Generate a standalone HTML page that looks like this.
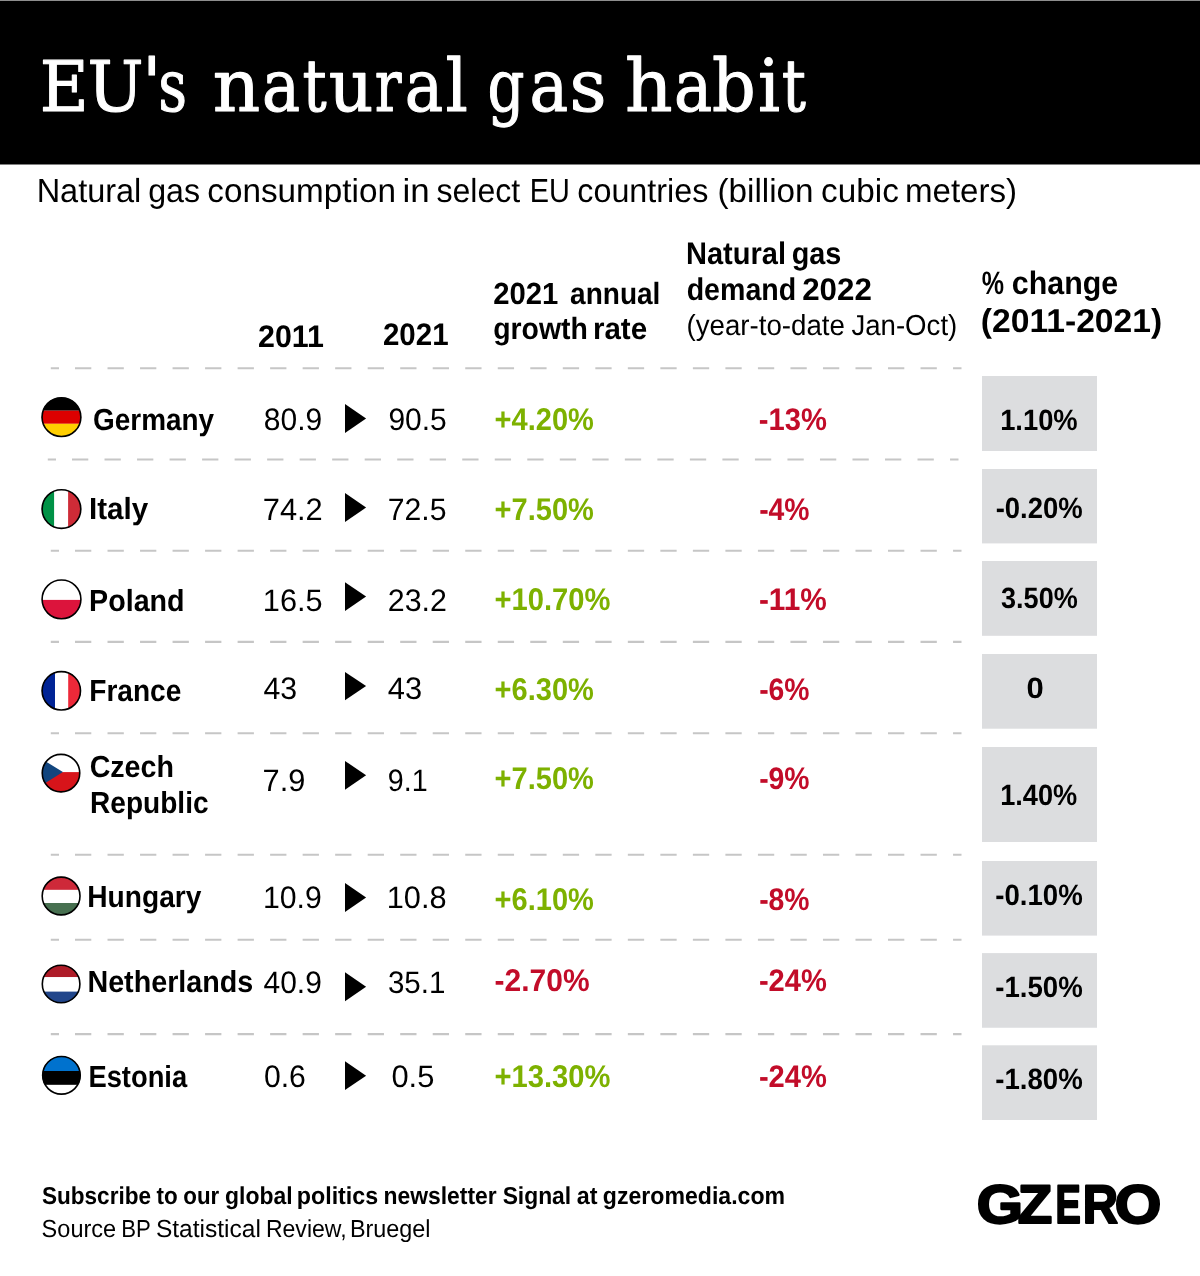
<!DOCTYPE html><html><head><meta charset="utf-8"><title>EU's natural gas habit</title><style>
html,body{margin:0;padding:0;background:#fff;width:1200px;height:1276px;overflow:hidden}
svg{display:block;will-change:transform}
.s{font-family:'Liberation Sans', Arial, sans-serif}
.r{font-family:'DejaVu Serif', 'Liberation Serif', serif}
.b{font-weight:700}
text{text-rendering:geometricPrecision}
</style></head><body>
<svg width="1200" height="1276" viewBox="0 0 1200 1276">
<rect x="0" y="0" width="1200" height="1276" fill="#fff"/>
<rect x="0" y="0.56" width="1200" height="163.94" fill="#000"/>
<path d="M50.80 368.20H59.00M75.00 368.20H91.30M107.52 368.20H123.82M140.04 368.20H156.34M172.56 368.20H188.86M205.08 368.20H221.38M237.60 368.20H253.90M270.12 368.20H286.42M302.64 368.20H318.94M335.16 368.20H351.46M367.68 368.20H383.98M400.20 368.20H416.50M432.72 368.20H449.02M465.24 368.20H481.54M497.76 368.20H514.06M530.28 368.20H546.58M562.80 368.20H579.10M595.32 368.20H611.62M627.84 368.20H644.14M660.36 368.20H676.66M692.88 368.20H709.18M725.40 368.20H741.70M757.92 368.20H774.22M790.44 368.20H806.74M822.96 368.20H839.26M855.48 368.20H871.78M888.00 368.20H904.30M920.52 368.20H936.82M953.04 368.20H961.50" stroke="#c6c6c6" stroke-width="2.1" fill="none"/>
<path d="M47.80 459.50H56.00M72.00 459.50H88.30M104.52 459.50H120.82M137.04 459.50H153.34M169.56 459.50H185.86M202.08 459.50H218.38M234.60 459.50H250.90M267.12 459.50H283.42M299.64 459.50H315.94M332.16 459.50H348.46M364.68 459.50H380.98M397.20 459.50H413.50M429.72 459.50H446.02M462.24 459.50H478.54M494.76 459.50H511.06M527.28 459.50H543.58M559.80 459.50H576.10M592.32 459.50H608.62M624.84 459.50H641.14M657.36 459.50H673.66M689.88 459.50H706.18M722.40 459.50H738.70M754.92 459.50H771.22M787.44 459.50H803.74M819.96 459.50H836.26M852.48 459.50H868.78M885.00 459.50H901.30M917.52 459.50H933.82M950.04 459.50H958.50" stroke="#c6c6c6" stroke-width="2.1" fill="none"/>
<path d="M50.80 550.75H59.00M75.00 550.75H91.30M107.52 550.75H123.82M140.04 550.75H156.34M172.56 550.75H188.86M205.08 550.75H221.38M237.60 550.75H253.90M270.12 550.75H286.42M302.64 550.75H318.94M335.16 550.75H351.46M367.68 550.75H383.98M400.20 550.75H416.50M432.72 550.75H449.02M465.24 550.75H481.54M497.76 550.75H514.06M530.28 550.75H546.58M562.80 550.75H579.10M595.32 550.75H611.62M627.84 550.75H644.14M660.36 550.75H676.66M692.88 550.75H709.18M725.40 550.75H741.70M757.92 550.75H774.22M790.44 550.75H806.74M822.96 550.75H839.26M855.48 550.75H871.78M888.00 550.75H904.30M920.52 550.75H936.82M953.04 550.75H961.50" stroke="#c6c6c6" stroke-width="2.1" fill="none"/>
<path d="M50.80 641.90H59.00M75.00 641.90H91.30M107.52 641.90H123.82M140.04 641.90H156.34M172.56 641.90H188.86M205.08 641.90H221.38M237.60 641.90H253.90M270.12 641.90H286.42M302.64 641.90H318.94M335.16 641.90H351.46M367.68 641.90H383.98M400.20 641.90H416.50M432.72 641.90H449.02M465.24 641.90H481.54M497.76 641.90H514.06M530.28 641.90H546.58M562.80 641.90H579.10M595.32 641.90H611.62M627.84 641.90H644.14M660.36 641.90H676.66M692.88 641.90H709.18M725.40 641.90H741.70M757.92 641.90H774.22M790.44 641.90H806.74M822.96 641.90H839.26M855.48 641.90H871.78M888.00 641.90H904.30M920.52 641.90H936.82M953.04 641.90H961.50" stroke="#c6c6c6" stroke-width="2.1" fill="none"/>
<path d="M50.80 733.30H59.00M75.00 733.30H91.30M107.52 733.30H123.82M140.04 733.30H156.34M172.56 733.30H188.86M205.08 733.30H221.38M237.60 733.30H253.90M270.12 733.30H286.42M302.64 733.30H318.94M335.16 733.30H351.46M367.68 733.30H383.98M400.20 733.30H416.50M432.72 733.30H449.02M465.24 733.30H481.54M497.76 733.30H514.06M530.28 733.30H546.58M562.80 733.30H579.10M595.32 733.30H611.62M627.84 733.30H644.14M660.36 733.30H676.66M692.88 733.30H709.18M725.40 733.30H741.70M757.92 733.30H774.22M790.44 733.30H806.74M822.96 733.30H839.26M855.48 733.30H871.78M888.00 733.30H904.30M920.52 733.30H936.82M953.04 733.30H961.50" stroke="#c6c6c6" stroke-width="2.1" fill="none"/>
<path d="M50.80 854.80H59.00M75.00 854.80H91.30M107.52 854.80H123.82M140.04 854.80H156.34M172.56 854.80H188.86M205.08 854.80H221.38M237.60 854.80H253.90M270.12 854.80H286.42M302.64 854.80H318.94M335.16 854.80H351.46M367.68 854.80H383.98M400.20 854.80H416.50M432.72 854.80H449.02M465.24 854.80H481.54M497.76 854.80H514.06M530.28 854.80H546.58M562.80 854.80H579.10M595.32 854.80H611.62M627.84 854.80H644.14M660.36 854.80H676.66M692.88 854.80H709.18M725.40 854.80H741.70M757.92 854.80H774.22M790.44 854.80H806.74M822.96 854.80H839.26M855.48 854.80H871.78M888.00 854.80H904.30M920.52 854.80H936.82M953.04 854.80H961.50" stroke="#c6c6c6" stroke-width="2.1" fill="none"/>
<path d="M50.80 939.70H59.00M75.00 939.70H91.30M107.52 939.70H123.82M140.04 939.70H156.34M172.56 939.70H188.86M205.08 939.70H221.38M237.60 939.70H253.90M270.12 939.70H286.42M302.64 939.70H318.94M335.16 939.70H351.46M367.68 939.70H383.98M400.20 939.70H416.50M432.72 939.70H449.02M465.24 939.70H481.54M497.76 939.70H514.06M530.28 939.70H546.58M562.80 939.70H579.10M595.32 939.70H611.62M627.84 939.70H644.14M660.36 939.70H676.66M692.88 939.70H709.18M725.40 939.70H741.70M757.92 939.70H774.22M790.44 939.70H806.74M822.96 939.70H839.26M855.48 939.70H871.78M888.00 939.70H904.30M920.52 939.70H936.82M953.04 939.70H961.50" stroke="#c6c6c6" stroke-width="2.1" fill="none"/>
<path d="M50.80 1034.10H59.00M75.00 1034.10H91.30M107.52 1034.10H123.82M140.04 1034.10H156.34M172.56 1034.10H188.86M205.08 1034.10H221.38M237.60 1034.10H253.90M270.12 1034.10H286.42M302.64 1034.10H318.94M335.16 1034.10H351.46M367.68 1034.10H383.98M400.20 1034.10H416.50M432.72 1034.10H449.02M465.24 1034.10H481.54M497.76 1034.10H514.06M530.28 1034.10H546.58M562.80 1034.10H579.10M595.32 1034.10H611.62M627.84 1034.10H644.14M660.36 1034.10H676.66M692.88 1034.10H709.18M725.40 1034.10H741.70M757.92 1034.10H774.22M790.44 1034.10H806.74M822.96 1034.10H839.26M855.48 1034.10H871.78M888.00 1034.10H904.30M920.52 1034.10H936.82M953.04 1034.10H961.50" stroke="#c6c6c6" stroke-width="2.1" fill="none"/>
<rect x="982" y="376.00" width="115" height="75.00" fill="#dcdddf"/>
<rect x="982" y="469.00" width="115" height="74.40" fill="#dcdddf"/>
<rect x="982" y="561.00" width="115" height="74.80" fill="#dcdddf"/>
<rect x="982" y="654.00" width="115" height="74.70" fill="#dcdddf"/>
<rect x="982" y="747.00" width="115" height="95.00" fill="#dcdddf"/>
<rect x="982" y="861.00" width="115" height="74.60" fill="#dcdddf"/>
<rect x="982" y="953.10" width="115" height="74.65" fill="#dcdddf"/>
<rect x="982" y="1045.30" width="115" height="74.70" fill="#dcdddf"/>
<path d="M345 403.90L366.1 418.40L345 432.90Z" fill="#000"/>
<path d="M345 493.00L366.1 507.55L345 522.10Z" fill="#000"/>
<path d="M345 582.30L366.1 596.60L345 610.90Z" fill="#000"/>
<path d="M345 671.90L366.1 686.05L345 700.20Z" fill="#000"/>
<path d="M345 760.90L366.1 775.30L345 789.70Z" fill="#000"/>
<path d="M345 883.00L366.1 897.45L345 911.90Z" fill="#000"/>
<path d="M345 972.20L366.1 986.70L345 1001.20Z" fill="#000"/>
<path d="M345 1061.30L366.1 1075.70L345 1090.10Z" fill="#000"/>
<defs>
<clipPath id="c_de"><circle cx="61.45" cy="417.15" r="19.70"/></clipPath>
<clipPath id="c_it"><circle cx="61.45" cy="509.05" r="19.65"/></clipPath>
<clipPath id="c_pl"><circle cx="61.50" cy="599.35" r="19.70"/></clipPath>
<clipPath id="c_fr"><circle cx="61.30" cy="690.80" r="19.50"/></clipPath>
<clipPath id="c_cz"><circle cx="61.00" cy="773.10" r="19.05"/></clipPath>
<clipPath id="c_hu"><circle cx="61.10" cy="896.00" r="19.20"/></clipPath>
<clipPath id="c_nl"><circle cx="61.10" cy="984.00" r="19.10"/></clipPath>
<clipPath id="c_ee"><circle cx="61.45" cy="1075.35" r="19.10"/></clipPath>
</defs>
<g clip-path="url(#c_de)"><rect x="40.05" y="395.75" width="42.80" height="14.95" fill="#000000"/><rect x="40.05" y="410.70" width="42.80" height="13.10" fill="#dd0000"/><rect x="40.05" y="423.80" width="42.80" height="14.75" fill="#ffce00"/></g>
<circle cx="61.45" cy="417.15" r="19.40" fill="none" stroke="#000" stroke-width="1.6"/>
<g clip-path="url(#c_it)"><rect x="40.10" y="487.70" width="14.20" height="42.70" fill="#009246"/><rect x="54.30" y="487.70" width="13.80" height="42.70" fill="#ffffff"/><rect x="68.10" y="487.70" width="14.70" height="42.70" fill="#ce2b37"/></g>
<circle cx="61.45" cy="509.05" r="19.35" fill="none" stroke="#000" stroke-width="1.6"/>
<g clip-path="url(#c_pl)"><rect x="40.10" y="577.95" width="42.80" height="21.95" fill="#ffffff"/><rect x="40.10" y="599.90" width="42.80" height="20.85" fill="#dc143c"/></g>
<circle cx="61.50" cy="599.35" r="19.40" fill="none" stroke="#000" stroke-width="1.6"/>
<g clip-path="url(#c_fr)"><rect x="40.10" y="669.60" width="14.90" height="42.40" fill="#002395"/><rect x="55.00" y="669.60" width="13.20" height="42.40" fill="#ffffff"/><rect x="68.20" y="669.60" width="14.30" height="42.40" fill="#ed2939"/></g>
<circle cx="61.30" cy="690.80" r="19.20" fill="none" stroke="#000" stroke-width="1.6"/>
<g clip-path="url(#c_cz)"><rect x="40.25" y="752.35" width="41.50" height="19.75" fill="#ffffff"/><rect x="40.25" y="772.10" width="41.50" height="21.75" fill="#d7141a"/><path d="M40.25 758.06L62.90 772.10L40.25 786.14Z" fill="#11457e"/></g>
<circle cx="61.00" cy="773.10" r="18.75" fill="none" stroke="#000" stroke-width="1.6"/>
<g clip-path="url(#c_hu)"><rect x="40.20" y="875.10" width="41.80" height="14.80" fill="#ce2939"/><rect x="40.20" y="889.90" width="41.80" height="13.10" fill="#ffffff"/><rect x="40.20" y="903.00" width="41.80" height="13.90" fill="#477050"/></g>
<circle cx="61.10" cy="896.00" r="18.90" fill="none" stroke="#000" stroke-width="1.6"/>
<g clip-path="url(#c_nl)"><rect x="40.30" y="963.20" width="41.60" height="14.00" fill="#ae1c28"/><rect x="40.30" y="977.20" width="41.60" height="14.40" fill="#ffffff"/><rect x="40.30" y="991.60" width="41.60" height="13.20" fill="#21468b"/></g>
<circle cx="61.10" cy="984.00" r="18.80" fill="none" stroke="#000" stroke-width="1.6"/>
<g clip-path="url(#c_ee)"><rect x="40.65" y="1054.55" width="41.60" height="16.45" fill="#0072ce"/><rect x="40.65" y="1071.00" width="41.60" height="13.90" fill="#000000"/><rect x="40.65" y="1084.90" width="41.60" height="11.25" fill="#ffffff"/></g>
<circle cx="61.45" cy="1075.35" r="18.80" fill="none" stroke="#000" stroke-width="1.6"/>
<text id="L_title" class="r" y="111.10" font-size="72.50" fill="#fff" stroke="#fff" stroke-width="1.10" stroke-linejoin="round"><tspan id="title_0" x="39.63" y="111.10" font-size="69.80" textLength="48.98" lengthAdjust="spacingAndGlyphs">E</tspan><tspan id="title_1" x="87.45" y="111.10" font-size="69.80" textLength="56.09" lengthAdjust="spacingAndGlyphs">U</tspan><tspan id="title_2" x="142.23" y="106.60" font-size="69.80" textLength="19.14" lengthAdjust="spacingAndGlyphs">'</tspan><tspan id="title_3" x="158.27" y="111.10" textLength="28.78" lengthAdjust="spacingAndGlyphs">s</tspan> <tspan id="title_4" x="212.85" y="111.10" textLength="47.46" lengthAdjust="spacingAndGlyphs">n</tspan><tspan id="title_5" x="262.04" y="111.10" textLength="38.11" lengthAdjust="spacingAndGlyphs">a</tspan><tspan id="title_6" x="302.46" y="111.10" textLength="24.12" lengthAdjust="spacingAndGlyphs">t</tspan><tspan id="title_7" x="328.70" y="111.10" textLength="44.63" lengthAdjust="spacingAndGlyphs">u</tspan><tspan id="title_8" x="374.70" y="111.10" textLength="26.77" lengthAdjust="spacingAndGlyphs">r</tspan><tspan id="title_9" x="404.75" y="111.10" textLength="38.47" lengthAdjust="spacingAndGlyphs">a</tspan><tspan id="title_10" x="445.41" y="111.10" textLength="22.40" lengthAdjust="spacingAndGlyphs">l</tspan> <tspan id="title_11" x="487.39" y="111.10" textLength="37.04" lengthAdjust="spacingAndGlyphs">g</tspan><tspan id="title_12" x="529.62" y="111.10" textLength="38.70" lengthAdjust="spacingAndGlyphs">a</tspan><tspan id="title_13" x="569.50" y="111.10" textLength="37.09" lengthAdjust="spacingAndGlyphs">s</tspan> <tspan id="title_14" x="625.02" y="111.10" textLength="47.63" lengthAdjust="spacingAndGlyphs">h</tspan><tspan id="title_15" x="674.04" y="111.10" textLength="38.25" lengthAdjust="spacingAndGlyphs">a</tspan><tspan id="title_16" x="712.07" y="111.10" textLength="43.64" lengthAdjust="spacingAndGlyphs">b</tspan><tspan id="title_17" x="757.99" y="111.10" textLength="22.05" lengthAdjust="spacingAndGlyphs">i</tspan><tspan id="title_18" x="781.66" y="111.10" textLength="24.13" lengthAdjust="spacingAndGlyphs">t</tspan></text>
<text id="L_sub" class="s" y="202.00" font-size="33.30" fill="#000"><tspan id="sub_0" x="36.63" textLength="104.69" lengthAdjust="spacingAndGlyphs">Natural</tspan> <tspan id="sub_1" x="148.22" textLength="51.84" lengthAdjust="spacingAndGlyphs">gas</tspan> <tspan id="sub_2" x="207.26" textLength="188.67" lengthAdjust="spacingAndGlyphs">consumption</tspan> <tspan id="sub_3" x="402.58" textLength="27.16" lengthAdjust="spacingAndGlyphs">in</tspan> <tspan id="sub_4" x="436.38" textLength="83.88" lengthAdjust="spacingAndGlyphs">select</tspan> <tspan id="sub_5" x="529.73" textLength="40.07" lengthAdjust="spacingAndGlyphs">EU</tspan> <tspan id="sub_6" x="577.30" textLength="130.97" lengthAdjust="spacingAndGlyphs">countries</tspan> <tspan id="sub_7" x="717.50" textLength="96.00" lengthAdjust="spacingAndGlyphs">(billion</tspan> <tspan id="sub_8" x="821.06" textLength="77.76" lengthAdjust="spacingAndGlyphs">cubic</tspan> <tspan id="sub_9" x="904.93" textLength="112.22" lengthAdjust="spacingAndGlyphs">meters)</tspan></text>
<text id="L_h2011" class="s b" y="346.50" font-size="31.20" fill="#000"><tspan id="h2011" x="258.07" textLength="65.95" lengthAdjust="spacingAndGlyphs">2011</tspan></text>
<text id="L_h2021" class="s b" y="344.70" font-size="31.20" fill="#000"><tspan id="h2021" x="382.91" textLength="65.69" lengthAdjust="spacingAndGlyphs">2021</tspan></text>
<text id="L_hg1" class="s b" y="303.80" font-size="30.70" fill="#000"><tspan id="hg1_0" x="493.30" textLength="65.11" lengthAdjust="spacingAndGlyphs">2021</tspan> <tspan id="hg1_1" x="570.07" textLength="90.33" lengthAdjust="spacingAndGlyphs">annual</tspan></text>
<text id="L_hg2" class="s b" y="339.40" font-size="30.70" fill="#000"><tspan id="hg2_0" x="493.24" textLength="94.60" lengthAdjust="spacingAndGlyphs">growth</tspan> <tspan id="hg2_1" x="592.94" textLength="54.18" lengthAdjust="spacingAndGlyphs">rate</tspan></text>
<text id="L_hd1" class="s b" y="263.50" font-size="31.25" fill="#000"><tspan id="hd1_0" x="686.00" textLength="99.97" lengthAdjust="spacingAndGlyphs">Natural</tspan> <tspan id="hd1_1" x="791.67" textLength="49.63" lengthAdjust="spacingAndGlyphs">gas</tspan></text>
<text id="L_hd2" class="s b" y="300.20" font-size="31.25" fill="#000"><tspan id="hd2_0" x="686.67" textLength="109.52" lengthAdjust="spacingAndGlyphs">demand</tspan> <tspan id="hd2_1" x="802.13" textLength="69.72" lengthAdjust="spacingAndGlyphs">2022</tspan></text>
<text id="L_hd3" class="s" y="334.70" font-size="28.90" fill="#000"><tspan id="hd3_0" x="686.44" textLength="158.43" lengthAdjust="spacingAndGlyphs">(year-to-date</tspan> <tspan id="hd3_1" x="851.44" textLength="105.81" lengthAdjust="spacingAndGlyphs">Jan-Oct)</tspan></text>
<text id="L_hp1" class="s b" y="293.60" font-size="32.50" fill="#000"><tspan id="hp1_0" x="981.83" textLength="22.26" lengthAdjust="spacingAndGlyphs">%</tspan> <tspan id="hp1_1" x="1011.83" textLength="106.40" lengthAdjust="spacingAndGlyphs">change</tspan></text>
<text id="L_hp2" class="s b" y="331.80" font-size="33.00" fill="#000"><tspan id="hp2" x="980.77" textLength="181.43" lengthAdjust="spacingAndGlyphs">(2011-2021)</tspan></text>
<text id="L_n_de0" class="s b" y="429.50" font-size="30.50" fill="#000"><tspan id="n_de0" x="93.02" textLength="121.05" lengthAdjust="spacingAndGlyphs">Germany</tspan></text>
<text id="L_v1_de" class="s" y="430.00" font-size="31.00" fill="#000"><tspan id="v1_de" x="263.80" textLength="58.33" lengthAdjust="spacingAndGlyphs">80.9</tspan></text>
<text id="L_v2_de" class="s" y="430.00" font-size="31.00" fill="#000"><tspan id="v2_de" x="388.41" textLength="58.34" lengthAdjust="spacingAndGlyphs">90.5</tspan></text>
<text id="L_g_de" class="s b" y="430.00" font-size="31.40" fill="#7db100"><tspan id="g_de" x="494.62" textLength="99.31" lengthAdjust="spacingAndGlyphs">+4.20%</tspan></text>
<text id="L_d_de" class="s b" y="429.80" font-size="31.10" fill="#c20c29"><tspan id="d_de" x="758.83" textLength="68.15" lengthAdjust="spacingAndGlyphs">-13%</tspan></text>
<text id="L_b_de" class="s b" y="430.00" font-size="29.40" fill="#000"><tspan id="b_de" x="1000.15" textLength="77.56" lengthAdjust="spacingAndGlyphs">1.10%</tspan></text>
<text id="L_n_it0" class="s b" y="519.20" font-size="30.50" fill="#000"><tspan id="n_it0" x="88.94" textLength="59.18" lengthAdjust="spacingAndGlyphs">Italy</tspan></text>
<text id="L_v1_it" class="s" y="520.30" font-size="31.00" fill="#000"><tspan id="v1_it" x="262.75" textLength="59.99" lengthAdjust="spacingAndGlyphs">74.2</tspan></text>
<text id="L_v2_it" class="s" y="520.30" font-size="31.00" fill="#000"><tspan id="v2_it" x="387.76" textLength="58.73" lengthAdjust="spacingAndGlyphs">72.5</tspan></text>
<text id="L_g_it" class="s b" y="520.00" font-size="31.40" fill="#7db100"><tspan id="g_it" x="494.62" textLength="99.31" lengthAdjust="spacingAndGlyphs">+7.50%</tspan></text>
<text id="L_d_it" class="s b" y="520.00" font-size="31.10" fill="#c20c29"><tspan id="d_it" x="759.13" textLength="50.43" lengthAdjust="spacingAndGlyphs">-4%</tspan></text>
<text id="L_b_it" class="s b" y="518.30" font-size="29.40" fill="#000"><tspan id="b_it" x="995.67" textLength="87.01" lengthAdjust="spacingAndGlyphs">-0.20%</tspan></text>
<text id="L_n_pl0" class="s b" y="610.50" font-size="30.50" fill="#000"><tspan id="n_pl0" x="89.11" textLength="95.48" lengthAdjust="spacingAndGlyphs">Poland</tspan></text>
<text id="L_v1_pl" class="s" y="610.50" font-size="31.00" fill="#000"><tspan id="v1_pl" x="262.85" textLength="59.74" lengthAdjust="spacingAndGlyphs">16.5</tspan></text>
<text id="L_v2_pl" class="s" y="610.50" font-size="31.00" fill="#000"><tspan id="v2_pl" x="387.79" textLength="59.09" lengthAdjust="spacingAndGlyphs">23.2</tspan></text>
<text id="L_g_pl" class="s b" y="610.00" font-size="31.40" fill="#7db100"><tspan id="g_pl" x="494.50" textLength="116.02" lengthAdjust="spacingAndGlyphs">+10.70%</tspan></text>
<text id="L_d_pl" class="s b" y="610.00" font-size="31.10" fill="#c20c29"><tspan id="d_pl" x="758.91" textLength="67.95" lengthAdjust="spacingAndGlyphs">-11%</tspan></text>
<text id="L_b_pl" class="s b" y="608.30" font-size="29.40" fill="#000"><tspan id="b_pl" x="1001.07" textLength="76.69" lengthAdjust="spacingAndGlyphs">3.50%</tspan></text>
<text id="L_n_fr0" class="s b" y="701.25" font-size="30.50" fill="#000"><tspan id="n_fr0" x="89.22" textLength="92.12" lengthAdjust="spacingAndGlyphs">France</tspan></text>
<text id="L_v1_fr" class="s" y="698.80" font-size="31.00" fill="#000"><tspan id="v1_fr" x="263.48" textLength="33.69" lengthAdjust="spacingAndGlyphs">43</tspan></text>
<text id="L_v2_fr" class="s" y="698.80" font-size="31.00" fill="#000"><tspan id="v2_fr" x="387.84" textLength="34.31" lengthAdjust="spacingAndGlyphs">43</tspan></text>
<text id="L_g_fr" class="s b" y="700.00" font-size="31.40" fill="#7db100"><tspan id="g_fr" x="494.62" textLength="99.31" lengthAdjust="spacingAndGlyphs">+6.30%</tspan></text>
<text id="L_d_fr" class="s b" y="700.00" font-size="31.10" fill="#c20c29"><tspan id="d_fr" x="759.13" textLength="50.43" lengthAdjust="spacingAndGlyphs">-6%</tspan></text>
<text id="L_b_fr" class="s b" y="697.70" font-size="29.40" fill="#000"><tspan id="b_fr" x="1026.59" textLength="17.27" lengthAdjust="spacingAndGlyphs">0</tspan></text>
<text id="L_n_cz0" class="s b" y="777.40" font-size="30.50" fill="#000"><tspan id="n_cz0" x="89.65" textLength="84.31" lengthAdjust="spacingAndGlyphs">Czech</tspan></text>
<text id="L_n_cz1" class="s b" y="813.40" font-size="30.50" fill="#000"><tspan id="n_cz1" x="90.10" textLength="118.43" lengthAdjust="spacingAndGlyphs">Republic</tspan></text>
<text id="L_v1_cz" class="s" y="790.50" font-size="31.00" fill="#000"><tspan id="v1_cz" x="262.61" textLength="42.82" lengthAdjust="spacingAndGlyphs">7.9</tspan></text>
<text id="L_v2_cz" class="s" y="790.50" font-size="31.00" fill="#000"><tspan id="v2_cz" x="387.82" textLength="39.88" lengthAdjust="spacingAndGlyphs">9.1</tspan></text>
<text id="L_g_cz" class="s b" y="789.30" font-size="31.40" fill="#7db100"><tspan id="g_cz" x="494.62" textLength="99.31" lengthAdjust="spacingAndGlyphs">+7.50%</tspan></text>
<text id="L_d_cz" class="s b" y="789.30" font-size="31.10" fill="#c20c29"><tspan id="d_cz" x="759.13" textLength="50.43" lengthAdjust="spacingAndGlyphs">-9%</tspan></text>
<text id="L_b_cz" class="s b" y="805.10" font-size="29.40" fill="#000"><tspan id="b_cz" x="1000.19" textLength="77.08" lengthAdjust="spacingAndGlyphs">1.40%</tspan></text>
<text id="L_n_hu0" class="s b" y="907.20" font-size="30.50" fill="#000"><tspan id="n_hu0" x="87.31" textLength="114.17" lengthAdjust="spacingAndGlyphs">Hungary</tspan></text>
<text id="L_v1_hu" class="s" y="908.25" font-size="31.00" fill="#000"><tspan id="v1_hu" x="262.92" textLength="58.85" lengthAdjust="spacingAndGlyphs">10.9</tspan></text>
<text id="L_v2_hu" class="s" y="908.25" font-size="31.00" fill="#000"><tspan id="v2_hu" x="386.81" textLength="59.75" lengthAdjust="spacingAndGlyphs">10.8</tspan></text>
<text id="L_g_hu" class="s b" y="910.00" font-size="31.40" fill="#7db100"><tspan id="g_hu" x="494.62" textLength="99.31" lengthAdjust="spacingAndGlyphs">+6.10%</tspan></text>
<text id="L_d_hu" class="s b" y="910.00" font-size="31.10" fill="#c20c29"><tspan id="d_hu" x="759.13" textLength="50.43" lengthAdjust="spacingAndGlyphs">-8%</tspan></text>
<text id="L_b_hu" class="s b" y="904.90" font-size="29.40" fill="#000"><tspan id="b_hu" x="995.22" textLength="87.51" lengthAdjust="spacingAndGlyphs">-0.10%</tspan></text>
<text id="L_n_nl0" class="s b" y="991.50" font-size="30.50" fill="#000"><tspan id="n_nl0" x="87.42" textLength="165.89" lengthAdjust="spacingAndGlyphs">Netherlands</tspan></text>
<text id="L_v1_nl" class="s" y="993.00" font-size="31.00" fill="#000"><tspan id="v1_nl" x="263.52" textLength="58.28" lengthAdjust="spacingAndGlyphs">40.9</tspan></text>
<text id="L_v2_nl" class="s" y="993.00" font-size="31.00" fill="#000"><tspan id="v2_nl" x="387.89" textLength="57.49" lengthAdjust="spacingAndGlyphs">35.1</tspan></text>
<text id="L_g_nl" class="s b" y="991.40" font-size="31.40" fill="#c20c29"><tspan id="g_nl" x="494.58" textLength="94.96" lengthAdjust="spacingAndGlyphs">-2.70%</tspan></text>
<text id="L_d_nl" class="s b" y="991.40" font-size="31.10" fill="#c20c29"><tspan id="d_nl" x="758.92" textLength="67.96" lengthAdjust="spacingAndGlyphs">-24%</tspan></text>
<text id="L_b_nl" class="s b" y="996.60" font-size="29.40" fill="#000"><tspan id="b_nl" x="995.22" textLength="87.51" lengthAdjust="spacingAndGlyphs">-1.50%</tspan></text>
<text id="L_n_ee0" class="s b" y="1086.50" font-size="30.50" fill="#000"><tspan id="n_ee0" x="88.43" textLength="98.72" lengthAdjust="spacingAndGlyphs">Estonia</tspan></text>
<text id="L_v1_ee" class="s" y="1086.50" font-size="31.00" fill="#000"><tspan id="v1_ee" x="263.96" textLength="41.92" lengthAdjust="spacingAndGlyphs">0.6</tspan></text>
<text id="L_v2_ee" class="s" y="1086.50" font-size="31.00" fill="#000"><tspan id="v2_ee" x="391.44" textLength="42.95" lengthAdjust="spacingAndGlyphs">0.5</tspan></text>
<text id="L_g_ee" class="s b" y="1087.40" font-size="31.40" fill="#7db100"><tspan id="g_ee" x="494.50" textLength="116.02" lengthAdjust="spacingAndGlyphs">+13.30%</tspan></text>
<text id="L_d_ee" class="s b" y="1087.40" font-size="31.10" fill="#c20c29"><tspan id="d_ee" x="758.92" textLength="67.96" lengthAdjust="spacingAndGlyphs">-24%</tspan></text>
<text id="L_b_ee" class="s b" y="1088.75" font-size="29.40" fill="#000"><tspan id="b_ee" x="995.22" textLength="87.51" lengthAdjust="spacingAndGlyphs">-1.80%</tspan></text>
<text id="L_f1" class="s b" y="1204.40" font-size="24.50" fill="#000"><tspan id="f1_0" x="41.95" textLength="109.09" lengthAdjust="spacingAndGlyphs">Subscribe</tspan> <tspan id="f1_1" x="156.45" textLength="21.16" lengthAdjust="spacingAndGlyphs">to</tspan> <tspan id="f1_2" x="183.31" textLength="35.98" lengthAdjust="spacingAndGlyphs">our</tspan> <tspan id="f1_3" x="225.12" textLength="67.54" lengthAdjust="spacingAndGlyphs">global</tspan> <tspan id="f1_4" x="296.83" textLength="81.33" lengthAdjust="spacingAndGlyphs">politics</tspan> <tspan id="f1_5" x="383.52" textLength="113.21" lengthAdjust="spacingAndGlyphs">newsletter</tspan> <tspan id="f1_6" x="502.64" textLength="68.54" lengthAdjust="spacingAndGlyphs">Signal</tspan> <tspan id="f1_7" x="576.68" textLength="20.73" lengthAdjust="spacingAndGlyphs">at</tspan> <tspan id="f1_8" x="602.82" textLength="182.26" lengthAdjust="spacingAndGlyphs">gzeromedia.com</tspan></text>
<text id="L_f2" class="s" y="1236.95" font-size="24.60" fill="#000"><tspan id="f2_0" x="41.61" textLength="74.55" lengthAdjust="spacingAndGlyphs">Source</tspan> <tspan id="f2_1" x="121.16" textLength="29.18" lengthAdjust="spacingAndGlyphs">BP</tspan> <tspan id="f2_2" x="155.94" textLength="104.96" lengthAdjust="spacingAndGlyphs">Statistical</tspan> <tspan id="f2_3" x="265.92" textLength="80.69" lengthAdjust="spacingAndGlyphs">Review,</tspan> <tspan id="f2_4" x="349.95" textLength="80.64" lengthAdjust="spacingAndGlyphs">Bruegel</tspan></text>
<text id="L_logo" class="s b" y="1223.20" font-size="54.20" fill="#000" stroke="#000" stroke-width="2.20" stroke-linejoin="round"><tspan id="logo_0" x="976.68" textLength="46.26" lengthAdjust="spacingAndGlyphs">G</tspan><tspan id="logo_1" x="1017.85" textLength="34.46" lengthAdjust="spacingAndGlyphs">Z</tspan><tspan id="logo_2" x="1055.49" textLength="25.29" lengthAdjust="spacingAndGlyphs">E</tspan><tspan id="logo_3" x="1082.81" textLength="35.27" lengthAdjust="spacingAndGlyphs">R</tspan><tspan id="logo_4" x="1114.66" textLength="46.62" lengthAdjust="spacingAndGlyphs">O</tspan></text>
</svg></body></html>
